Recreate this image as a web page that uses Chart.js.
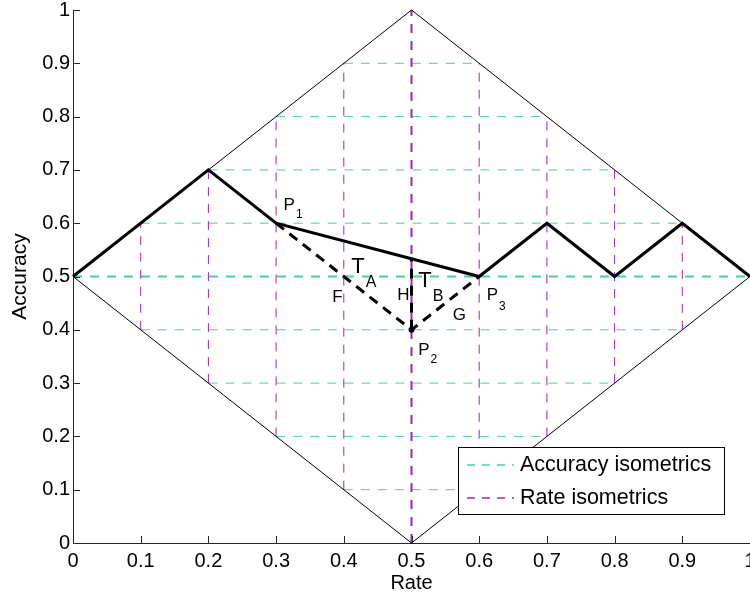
<!DOCTYPE html>
<html>
<head>
<meta charset="utf-8">
<script src="https://cdn.jsdelivr.net/npm/chart.js@4/dist/chart.umd.min.js"></script>
<style>
  html, body { margin: 0; padding: 0; background: #fff; overflow: hidden; }
  /* slightly wider than the window so the last x label is cut like the original */
  #wrap { width: 754px; height: 601px; position: relative; }
</style>
</head>
<body>
<div id="wrap"><canvas id="isoCanvas"></canvas></div>
<script>
// ROC-like curve (Rate vs Accuracy)
const curveRate = [0, 0.2, 0.3, 0.6, 0.7, 0.8, 0.9, 1];
const curveAccuracy = [0.5, 0.7, 0.6, 0.5, 0.6, 0.5, 0.6, 0.5];

// diamond boundary
const diamondRate = [0, 0.5, 1, 0.5, 0];
const diamondAccuracy = [0.5, 1, 0.5, 0, 0.5];

// dashed triangle P1 - P2 - P3 and the height H
const triangleRate = [0.3, 0.5, 0.6];
const triangleAccuracy = [0.6, 0.4, 0.5];
const heightRate = [0.5, 0.5];
const heightAccuracy = [0.4, 0.5333];
const p2Rate = [0.5];
const p2Accuracy = [0.4];

// isometrics: level, and where each one starts / ends inside the diamond
const isoLevels = [0.1, 0.2, 0.3, 0.4, 0.5, 0.6, 0.7, 0.8, 0.9];
const isoFrom = [0.4, 0.3, 0.2, 0.1, 0, 0.1, 0.2, 0.3, 0.4];
const isoTo = [0.6, 0.7, 0.8, 0.9, 1, 0.9, 0.8, 0.7, 0.6];

// ticks
const tickValues = [0, 0.1, 0.2, 0.3, 0.4, 0.5, 0.6, 0.7, 0.8, 0.9, 1];
const tickLabels = ['0', '0.1', '0.2', '0.3', '0.4', '0.5', '0.6', '0.7', '0.8', '0.9', '1'];

// annotation texts (anchor in data units: left / baseline)
const noteText = ['P', 'T', 'F', 'H', 'T', 'G', 'P', 'P'];
const noteSub = ['1', 'A', '', '', 'B', '', '3', '2'];
const noteRate = [0.311, 0.411, 0.383, 0.479, 0.510, 0.561, 0.611, 0.510];
const noteAccuracy = [0.625, 0.507, 0.452, 0.456, 0.480, 0.418, 0.456, 0.353];

const GREEN = '#44d2a4';
const PURPLE = '#9b1fe3';
const FONT = 'Liberation Sans, Arial, Helvetica, sans-serif';

function zip(xs, ys) {
    return xs.map((x, i) => ({ x: x, y: ys[i] }));
}

// horizontal accuracy isometrics (the 0.5 one is drawn on its own, thicker)
const accIso = [];
const rateIso = [];
isoLevels.forEach((lvl, i) => {
    if (lvl === 0.5) return;
    accIso.push({ x: isoFrom[i], y: lvl }, { x: isoTo[i], y: lvl }, { x: isoTo[i], y: null });
    rateIso.push({ x: lvl, y: isoFrom[i] }, { x: lvl, y: isoTo[i] }, { x: lvl, y: null });
});
const mid = isoLevels.indexOf(0.5);
const accMid = [{ x: isoFrom[mid], y: 0.5 }, { x: isoTo[mid], y: 0.5 }];
const rateMid = [{ x: 0.5, y: isoFrom[mid] }, { x: 0.5, y: isoTo[mid] }];

const line = (extra) => Object.assign({
    showLine: true,
    pointRadius: 0,
    fill: false,
    tension: 0,
    clip: false
}, extra);

// ticks pointing inwards + text annotations + legend box
const extrasPlugin = {
    id: 'extras',
    afterDatasetsDraw(chart) {
        const ctx = chart.ctx;
        const xs = chart.scales.x;
        const ys = chart.scales.y;
        const area = chart.chartArea;

        ctx.save();
        ctx.strokeStyle = '#262626';
        ctx.lineWidth = 1;
        tickValues.forEach(v => {
            const px = Math.round(xs.getPixelForValue(v)) + 0.5;
            ctx.beginPath();
            ctx.moveTo(px, area.bottom);
            ctx.lineTo(px, area.bottom - 7);
            ctx.stroke();
            const py = Math.round(ys.getPixelForValue(v)) + 0.5;
            ctx.beginPath();
            ctx.moveTo(area.left, py);
            ctx.lineTo(area.left + 7, py);
            ctx.stroke();
        });

        // annotations
        ctx.fillStyle = '#000';
        ctx.textBaseline = 'alphabetic';
        ctx.textAlign = 'left';
        noteText.forEach((t, i) => {
            const big = t === 'T';
            const size = big ? 22 : 17;
            const subSize = big ? 16 : 12;
            const drop = big ? 14 : (t === 'P' && noteSub[i] === '3' ? 10 : 8);
            const px = xs.getPixelForValue(noteRate[i]);
            const py = ys.getPixelForValue(noteAccuracy[i]);
            ctx.font = size + 'px ' + FONT;
            ctx.fillText(t, px, py);
            if (noteSub[i]) {
                const w = ctx.measureText(t).width;
                ctx.font = subSize + 'px ' + FONT;
                ctx.fillText(noteSub[i], px + w + 1, py + drop);
            }
        });

        // legend
        const bx = area.right - 292, by = area.bottom - 96, bw = 266, bh = 67;
        ctx.fillStyle = '#fff';
        ctx.fillRect(bx, by, bw, bh);
        ctx.strokeStyle = '#000';
        ctx.lineWidth = 1;
        ctx.strokeRect(bx + 0.5, by + 0.5, bw, bh);
        const entries = [
            { label: chart.data.datasets[0].label, color: GREEN },
            { label: chart.data.datasets[1].label, color: PURPLE }
        ];
        ctx.font = '21.5px ' + FONT;
        ctx.textBaseline = 'middle';
        entries.forEach((e, i) => {
            const ly = by + 18 + i * 33;
            ctx.strokeStyle = e.color;
            ctx.setLineDash([8, 7]);
            ctx.lineWidth = 1.5;
            ctx.beginPath();
            ctx.moveTo(bx + 9, ly);
            ctx.lineTo(bx + 56, ly);
            ctx.stroke();
            ctx.setLineDash([]);
            ctx.fillStyle = '#000';
            ctx.fillText(e.label, bx + 62, ly);
        });
        ctx.restore();
    }
};

const ctx = document.getElementById('isoCanvas').getContext('2d');
const isoChart = new Chart(ctx, {
    type: 'scatter',
    data: {
        datasets: [
            line({ label: 'Accuracy isometrics', data: accIso, borderColor: GREEN, borderWidth: 1, borderDash: [9, 8], order: 6 }),
            line({ label: 'Rate isometrics', data: rateIso, borderColor: PURPLE, borderWidth: 1, borderDash: [9, 8], order: 5 }),
            line({ label: 'acc 0.5', data: accMid, borderColor: GREEN, borderWidth: 2, borderDash: [9, 8], order: 6 }),
            line({ label: 'rate 0.5', data: rateMid, borderColor: PURPLE, borderWidth: 2, borderDash: [9, 8], order: 5 }),
            line({ label: 'diamond', data: zip(diamondRate, diamondAccuracy), borderColor: '#000', borderWidth: 1, order: 4 }),
            line({ label: 'triangle', data: zip(triangleRate, triangleAccuracy), borderColor: '#000', borderWidth: 3, borderDash: [10, 7], order: 2 }),
            line({ label: 'height', data: zip(heightRate, heightAccuracy), borderColor: '#000', borderWidth: 3, borderDash: [10, 7], order: 2 }),
            line({ label: 'curve', data: zip(curveRate, curveAccuracy), borderColor: '#000', borderWidth: 3, order: 1 }),
            { label: 'P2', data: zip(p2Rate, p2Accuracy), showLine: false, pointRadius: 3, pointBackgroundColor: '#000', pointBorderWidth: 0, clip: false, order: 0 }
        ]
    },
    options: {
        responsive: true,
        maintainAspectRatio: false,
        animation: false,
        layout: { padding: { top: 10, right: 0, left: 0, bottom: 0 } },
        plugins: {
            legend: { display: false },
            tooltip: { enabled: false }
        },
        scales: {
            x: {
                type: 'linear',
                min: 0,
                max: 1,
                afterBuildTicks: function(scale) {
                    scale.ticks = tickValues.map(v => ({ value: v }));
                },
                afterFit: function(scale) {
                    scale.height = 58;
                    scale.paddingLeft = 0;
                    scale.paddingRight = 0;
                },
                grid: { display: true, drawOnChartArea: false, drawTicks: false },
                border: { display: true, color: '#262626', width: 1 },
                ticks: {
                    autoSkip: false,
                    maxRotation: 0,
                    padding: 6,
                    color: '#000',
                    font: { family: FONT, size: 20 },
                    callback: function(value, index) {
                        return tickLabels[index];
                    }
                },
                title: {
                    display: true,
                    text: 'Rate',
                    color: '#000',
                    font: { family: FONT, size: 20 },
                    padding: { top: 0, bottom: 6 }
                }
            },
            y: {
                type: 'linear',
                min: 0,
                max: 1,
                afterBuildTicks: function(scale) {
                    scale.ticks = tickValues.map(v => ({ value: v }));
                },
                afterFit: function(scale) {
                    scale.width = 73;
                    scale.paddingTop = 0;
                    scale.paddingBottom = 0;
                },
                grid: { display: true, drawOnChartArea: false, drawTicks: false },
                border: { display: true, color: '#262626', width: 1 },
                ticks: {
                    autoSkip: false,
                    padding: 3,
                    color: '#000',
                    font: { family: FONT, size: 20 },
                    callback: function(value, index) {
                        return tickLabels[index];
                    }
                },
                title: {
                    display: true,
                    text: 'Accuracy',
                    color: '#000',
                    font: { family: FONT, size: 21 },
                    padding: { top: 8, bottom: 0 }
                }
            }
        }
    },
    plugins: [extrasPlugin]
});
</script>
</body>
</html>
